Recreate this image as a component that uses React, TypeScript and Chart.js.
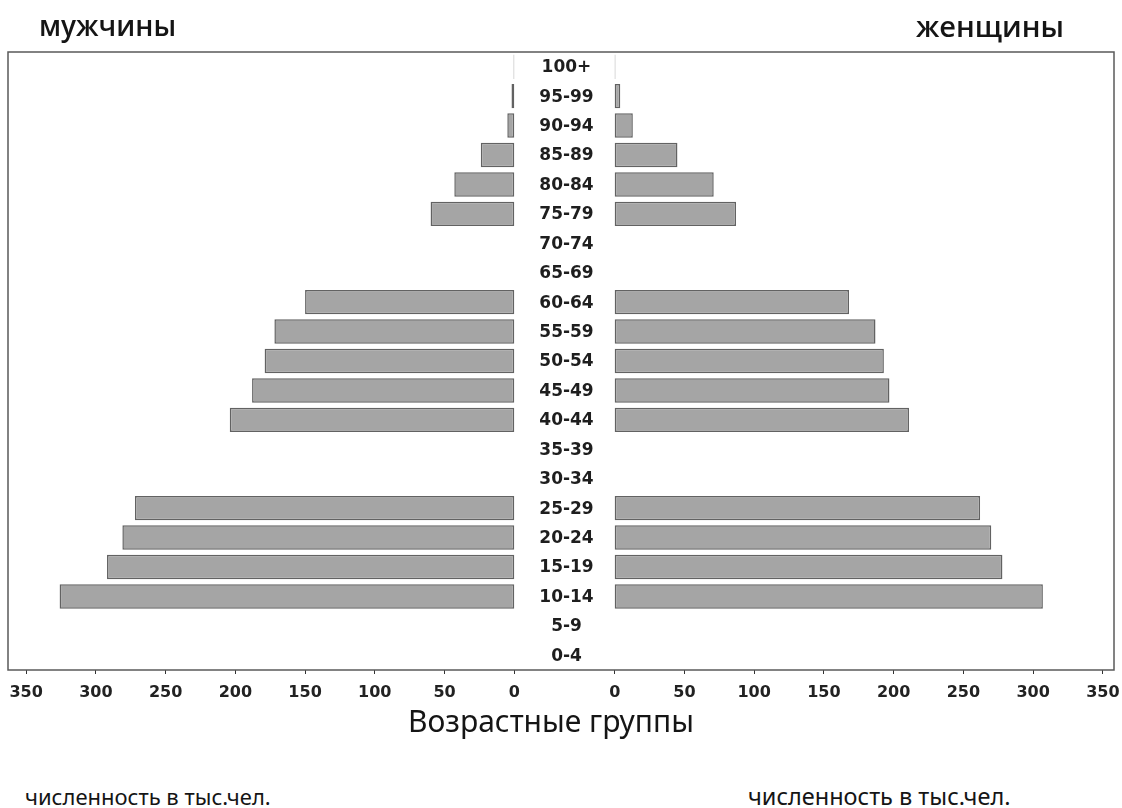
import React, { useEffect, useRef } from 'react';
import { Chart, registerables } from 'chart.js';

Chart.register(...registerables);

// Age groups, top to bottom
const ageGroups = ['100+', '95-99', '90-94', '85-89', '80-84', '75-79', '70-74', '65-69', '60-64', '55-59', '50-54', '45-49', '40-44', '35-39', '30-34', '25-29', '20-24', '15-19', '10-14', '5-9', '0-4'];
// Population, thousand people (null = not shown)
const men: (number | null)[] = [0.5, 2, 5, 24, 43, 60, null, null, 150, 172, 179, 188, 204, null, null, 272, 281, 292, 326, null, null];
const women: (number | null)[] = [0.5, 4, 13, 45, 71, 87, null, null, 168, 187, 193, 197, 211, null, null, 262, 270, 278, 307, null, null];
const tickValues = [0, 50, 100, 150, 200, 250, 300, 350];

const GAP = 36; // half-width of the central label column, in axis units
const AXIS_MIN = -399;
const AXIS_MAX = 394;

const BAR_FILL = '#a5a5a5';
const BAR_EDGE = '#626262';

const pyramidPlugin = {
  id: 'pyramid',
  afterDatasetsDraw(chart: any) {
    const { ctx, chartArea: a, scales } = chart;
    const x = scales.x;
    const y = scales.y;
    ctx.save();
    ctx.strokeStyle = '#5a5a5a';
    ctx.lineWidth = 1.5;
    ctx.strokeRect(a.left, a.top, a.right - a.left, a.bottom - a.top);
    ctx.font = 'bold 17px "DejaVu Sans"';
    ctx.fillStyle = '#1e1e1e';
    ctx.textAlign = 'center';
    ctx.textBaseline = 'middle';
    const cx = x.getPixelForValue(0) + 2;
    ageGroups.forEach((g, i) => ctx.fillText(g, cx, y.getPixelForValue(i) + 1));
    ctx.restore();
  },
};

export default function App() {
  const ref = useRef<HTMLCanvasElement | null>(null);

  useEffect(() => {
    if (!ref.current) return;
    const menData = men.map((v) => (v == null ? null : [-(GAP + v), -GAP]));
    const womenData = women.map((v) => (v == null ? null : [GAP, GAP + v]));
    const ticks = [
      ...[...tickValues].reverse().map((v) => ({ value: -(GAP + v) })),
      ...tickValues.map((v) => ({ value: GAP + v })),
    ];
    const chart = new Chart(ref.current, {
      type: 'bar',
      data: {
        labels: ageGroups,
        datasets: [
          {
            label: 'мужчины',
            data: menData as any,
            backgroundColor: BAR_FILL,
            borderColor: BAR_EDGE,
            borderWidth: 1.5,
            borderSkipped: false,
            barPercentage: 0.83,
            categoryPercentage: 1,
            grouped: false,
          } as any,
          {
            label: 'женщины',
            data: womenData as any,
            backgroundColor: BAR_FILL,
            borderColor: BAR_EDGE,
            borderWidth: 1.5,
            borderSkipped: false,
            barPercentage: 0.83,
            categoryPercentage: 1,
            grouped: false,
          } as any,
        ],
      },
      options: {
        indexAxis: 'y',
        animation: false,
        responsive: false,
        layout: { padding: { left: 8, right: 8, top: 52, bottom: 0 } },
        plugins: { legend: { display: false }, tooltip: { enabled: false } },
        scales: {
          x: {
            type: 'linear',
            min: AXIS_MIN,
            max: AXIS_MAX,
            afterBuildTicks: (s: any) => {
              s.ticks = ticks.map((t) => ({ ...t }));
            },
            afterFit: (s: any) => {
              s.height = 36;
              s.paddingLeft = 0;
              s.paddingRight = 0;
            },
            ticks: {
              callback: (val: any) => String(Math.round(Math.abs(Number(val)) - GAP)),
              font: { family: '"DejaVu Sans"', weight: 'bold', size: 16 },
              color: '#222',
              padding: 9,
              autoSkip: false,
              maxRotation: 0,
            },
            grid: { drawOnChartArea: false, tickLength: 4, color: '#333', lineWidth: 1 },
            border: { display: false },
          },
          y: {
            display: false,
          },
        },
      },
      plugins: [pyramidPlugin],
    } as any);
    return () => chart.destroy();
  }, []);

  const textBase: React.CSSProperties = {
    position: 'absolute',
    whiteSpace: 'nowrap',
    color: '#151515',
    lineHeight: 1,
  };

  return (
    <div style={{ position: 'absolute', left: 0, top: 0, width: 1122, height: 808, background: '#fff', overflow: 'hidden' }}>
      <canvas ref={ref} width={1122} height={706} style={{ position: 'absolute', left: 0, top: 0 }} />
      <div style={{ ...textBase, left: 39, top: 11, fontFamily: '"Open Sans"', fontWeight: 600, fontSize: 28 }}>мужчины</div>
      <div style={{ ...textBase, left: 916, top: 11, fontFamily: '"Open Sans"', fontWeight: 600, fontSize: 29 }}>женщины</div>
      <div style={{ ...textBase, left: 551, top: 706, transform: 'translateX(-50%)', fontFamily: '"Noto Sans"', fontSize: 30 }}>Возрастные группы</div>
      <div style={{ ...textBase, left: 25, top: 785, fontFamily: '"Noto Sans"', fontSize: 22 }}>численность в тыс.чел.</div>
      <div style={{ ...textBase, left: 748, top: 785, fontFamily: '"Noto Sans"', fontSize: 23.5 }}>численность в тыс.чел.</div>
    </div>
  );
}
